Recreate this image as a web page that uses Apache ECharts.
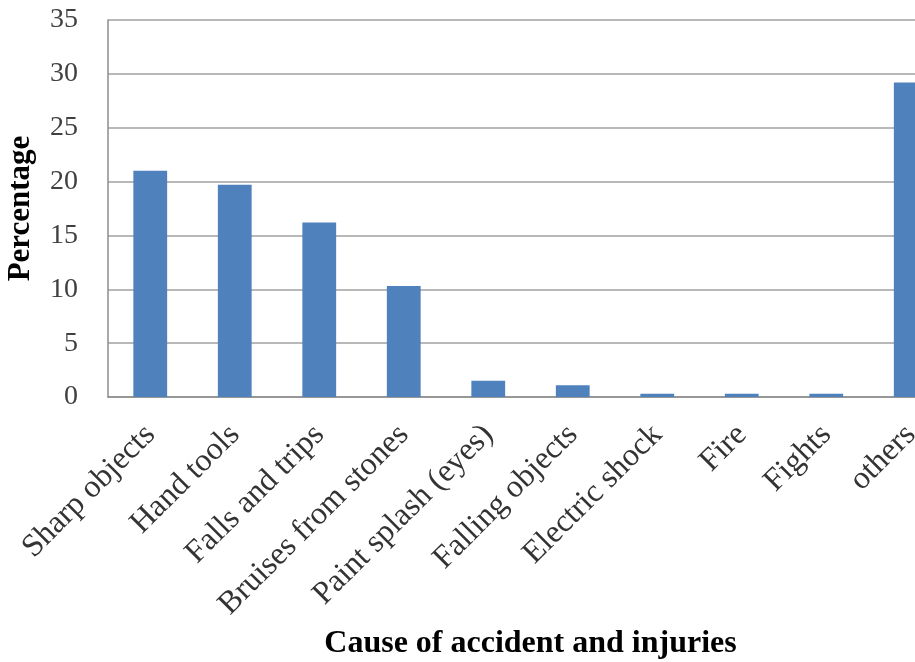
<!DOCTYPE html>
<html>
<head>
<meta charset="utf-8">
<script src="https://cdn.jsdelivr.net/npm/echarts@6/dist/echarts.min.js"></script>
<style>
  html, body { margin: 0; padding: 0; background: #ffffff; overflow: hidden; }
  #chart { width: 915px; height: 662px; }
</style>
</head>
<body>
<div id="chart"></div>
<script>
// Causes of accidents and injuries, share of cases (%)
const causes = [
  'Sharp objects', 'Hand tools', 'Falls and trips', 'Bruises from stones',
  'Paint splash (eyes)', 'Falling objects', 'Electric shock', 'Fire', 'Fights', 'others'
];
const percentages = [21.0, 19.7, 16.2, 10.3, 1.5, 1.1, 0.3, 0.3, 0.3, 29.2];
const yTicks = { min: 0, max: 35, step: 5 };

const serif = '"Liberation Serif", "Times New Roman", serif';
const chart = echarts.init(document.getElementById('chart'));

chart.setOption({
  animation: false,
  backgroundColor: '#ffffff',
  // the last category runs past the right edge, so the grid is not squeezed to fit
  grid: { left: 108, top: 20, width: 845, height: 377, containLabel: false, outerBoundsMode: 'none' },
  xAxis: {
    type: 'category',
    data: causes,
    name: 'Cause of accident and injuries',
    nameLocation: 'middle',
    nameGap: 229,
    nameTextStyle: { fontFamily: serif, fontSize: 32, fontWeight: 'bold', color: '#000000' },
    axisLine: { show: true, lineStyle: { color: '#8c8c8c', width: 1.5 } },
    axisTick: { show: false },
    axisLabel: {
      rotate: 45,
      interval: 0,
      margin: 33,
      fontFamily: serif,
      fontSize: 32,
      color: '#333333'
    }
  },
  yAxis: {
    type: 'value',
    min: yTicks.min,
    max: yTicks.max,
    interval: yTicks.step,
    name: 'Percentage',
    nameLocation: 'middle',
    nameGap: 72,
    nameTextStyle: { fontFamily: serif, fontSize: 31, fontWeight: 'bold', color: '#000000' },
    axisLine: { show: true, lineStyle: { color: '#8c8c8c', width: 1.5 } },
    axisTick: { show: false },
    axisLabel: { margin: 30, fontFamily: serif, fontSize: 28, color: '#404040' },
    splitLine: { show: true, lineStyle: { color: '#a0a0a0', width: 1.5 } }
  },
  series: [{
    type: 'bar',
    data: percentages,
    barWidth: '40%',
    itemStyle: { color: '#4f81bd' }
  }]
});
</script>
</body>
</html>
